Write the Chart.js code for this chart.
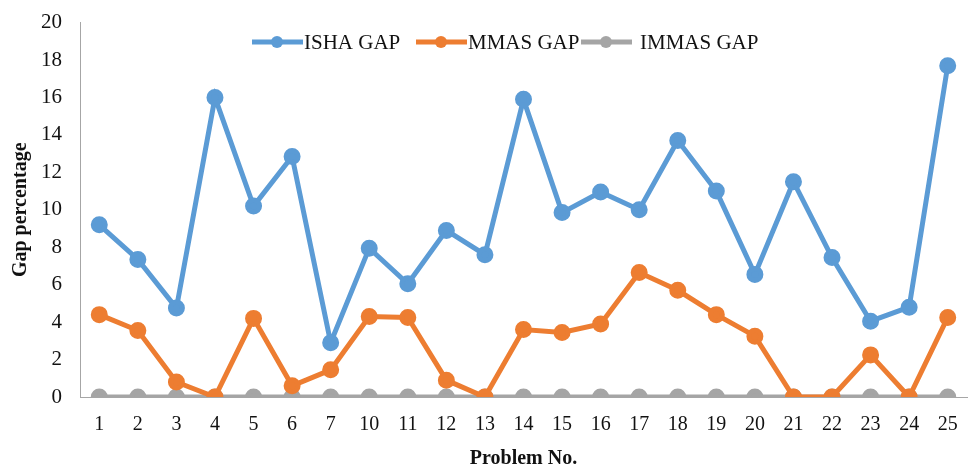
<!DOCTYPE html>
<html>
<head>
<meta charset="utf-8">
<script src="https://cdn.jsdelivr.net/npm/chart.js@4"></script>
<style>
  html, body { margin: 0; padding: 0; background: #fff; }
  #wrap { width: 978px; height: 469px; }
</style>
</head>
<body>
<div id="wrap"><canvas id="gapChart"></canvas></div>
<script>
// problem numbers (8 and 9 are not in the figure)
const problems = ['1', '2', '3', '4', '5', '6', '7', '10', '11', '12', '13', '14', '15', '16', '17', '18', '19', '20', '21', '22', '23', '24', '25'];
const ishaGap = [9.2, 7.35, 4.75, 16.0, 10.2, 12.85, 2.9, 7.95, 6.05, 8.9, 7.6, 15.9, 9.85, 10.95, 10.0, 13.7, 11.0, 6.55, 11.5, 7.45, 4.05, 4.8, 17.7];
const mmasGap = [4.4, 3.55, 0.8, 0, 4.2, 0.6, 1.45, 4.3, 4.25, 0.9, 0, 3.6, 3.45, 3.9, 6.65, 5.7, 4.4, 3.25, 0, 0, 2.25, 0, 4.25];
const immasGap = [0, 0, 0, 0, 0, 0, 0, 0, 0, 0, 0, 0, 0, 0, 0, 0, 0, 0, 0, 0, 0, 0, 0];
const yTicks = [0, 2, 4, 6, 8, 10, 12, 14, 16, 18, 20];

const serif = '"Liberation Serif", "DejaVu Serif", serif';

// legend sits inside the plot like the original, so it is drawn by hand
const insideLegend = {
    id: 'insideLegend',
    afterDraw(chart) {
        const ctx = chart.ctx;
        const y = 42;
        const items = [
            { x: 252, ds: chart.data.datasets[0] },
            { x: 416, ds: chart.data.datasets[1] },
            { x: 581, ds: chart.data.datasets[2] }
        ];
        ctx.save();
        ctx.font = '21px ' + serif;
        ctx.textBaseline = 'middle';
        items.forEach(it => {
            ctx.strokeStyle = it.ds.borderColor;
            ctx.lineWidth = 5;
            ctx.beginPath();
            ctx.moveTo(it.x, y);
            ctx.lineTo(it.x + 51, y);
            ctx.stroke();
            ctx.fillStyle = it.ds.borderColor;
            ctx.beginPath();
            ctx.arc(it.x + 25, y, 6, 0, Math.PI * 2);
            ctx.fill();
            ctx.fillStyle = '#111';
            ctx.fillText(it.ds.label, it.x + (it.ds.label === 'IMMAS GAP' ? 59 : 52), y + 1);
        });
        ctx.restore();
    }
};

const ctx = document.getElementById('gapChart').getContext('2d');
new Chart(ctx, {
    type: 'line',
    data: {
        labels: problems,
        datasets: [
            {
                label: 'ISHA GAP',
                data: ishaGap,
                borderColor: '#5B9BD5',
                backgroundColor: '#5B9BD5',
                borderWidth: 5,
                pointRadius: 6,
                pointHoverRadius: 6,
                tension: 0
            },
            {
                label: 'MMAS GAP',
                data: mmasGap,
                borderColor: '#ED7D31',
                backgroundColor: '#ED7D31',
                borderWidth: 5,
                pointRadius: 6,
                pointHoverRadius: 6,
                tension: 0
            },
            {
                label: 'IMMAS GAP',
                data: immasGap,
                borderColor: '#A5A5A5',
                backgroundColor: '#A5A5A5',
                borderWidth: 5,
                pointRadius: 6,
                pointHoverRadius: 6,
                tension: 0
            }
        ]
    },
    options: {
        responsive: true,
        maintainAspectRatio: false,
        animation: false,
        layout: { padding: { top: 12, right: 0, left: 11, bottom: 0 } },
        plugins: {
            legend: { display: false },
            tooltip: { enabled: false }
        },
        scales: {
            x: {
                offset: true,
                grid: { display: false },
                border: { display: true, color: '#A6A6A6', width: 1 },
                ticks: {
                    color: '#111',
                    font: { family: serif, size: 20, lineHeight: 1 },
                    padding: 10,
                    maxRotation: 0,
                    autoSkip: false
                },
                title: {
                    display: true,
                    text: 'Problem No.',
                    color: '#111',
                    font: { family: serif, size: 20, weight: 'bold', lineHeight: 1 },
                    padding: { top: 4, bottom: 0 }
                }
            },
            y: {
                min: 0,
                max: 20,
                afterBuildTicks(axis) {
                    axis.ticks = yTicks.map(v => ({ value: v }));
                },
                grid: { display: false },
                border: { display: true, color: '#A6A6A6', width: 1 },
                ticks: {
                    color: '#111',
                    font: { family: serif, size: 21 },
                    padding: 10
                },
                title: {
                    display: true,
                    text: 'Gap percentage',
                    color: '#111',
                    font: { family: serif, size: 20, weight: 'bold', lineHeight: 1 },
                    padding: { top: 0, bottom: 0 }
                }
            }
        }
    },
    plugins: [insideLegend]
});
</script>
</body>
</html>
